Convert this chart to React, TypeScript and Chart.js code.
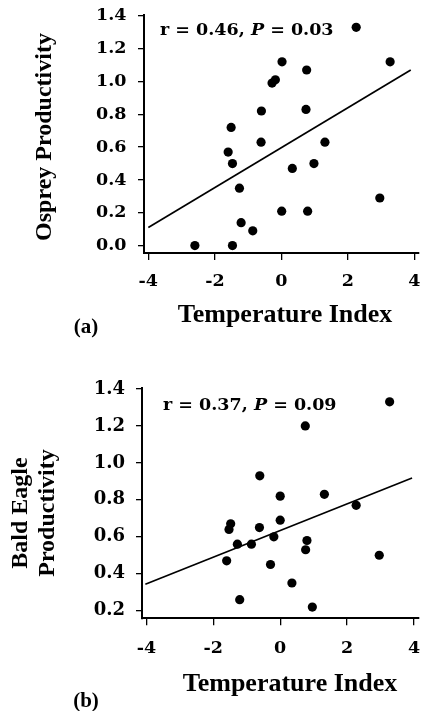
import React, { useEffect, useRef } from 'react';
import { Chart, registerables } from 'chart.js';

Chart.register(...registerables);

// ---------- data ----------
const xTickValues = [-4, -2, 0, 2, 4];
const ospreyYTicks = [0, 0.2, 0.4, 0.6, 0.8, 1.0, 1.2, 1.4];
const eagleYTicks = [0.2, 0.4, 0.6, 0.8, 1.0, 1.2, 1.4];

const ospreyTemp = [2.25, 0.02, 3.27, 0.76, -0.28, -0.18, -0.6, 0.74, -1.51, -0.61, 1.31, -1.6, -1.47, 0.98, 0.33, -1.26, 2.96, 0.01, 0.79, -1.21, -0.86, -2.6, -1.47];
const ospreyProd = [1.33, 1.12, 1.12, 1.07, 0.99, 1.01, 0.82, 0.83, 0.72, 0.63, 0.63, 0.57, 0.5, 0.5, 0.47, 0.35, 0.29, 0.21, 0.21, 0.14, 0.09, 0.0, 0.0];
const ospreyFitX = [-4.0, 3.89];
const ospreyFitY = [0.11, 1.07];

const eagleTemp = [3.27, 0.75, -0.61, 0.0, 1.32, 2.27, 0.0, -1.48, -1.53, -0.62, -0.19, -1.28, -0.86, 0.8, 0.76, -1.6, -0.29, 2.96, 0.35, -1.21, 0.96];
const eagleProd = [1.33, 1.2, 0.93, 0.82, 0.83, 0.77, 0.69, 0.67, 0.64, 0.65, 0.6, 0.56, 0.56, 0.58, 0.53, 0.47, 0.45, 0.5, 0.35, 0.26, 0.22];
const eagleFitX = [-4.03, 3.94];
const eagleFitY = [0.343, 0.918];

const xTitle = 'Temperature Index';
const ospreyYTitle = ['Osprey Productivity'];
const eagleYTitle = ['Bald Eagle', 'Productivity'];
const ospreyStats = ['0.46', '0.03'];
const eagleStats = ['0.37', '0.09'];
const panelLabels = ['(a)', '(b)'];

// ---------- chart builder ----------
type Panel = {
  width: number;
  height: number;
  axisLeft: number;
  padTop: number;
  padRight: number;
  xAxisHeight: number;
  xMin: number;
  xMax: number;
  yMin: number;
  yMax: number;
  yTicks: number[];
  temps: number[];
  prods: number[];
  fitX: number[];
  fitY: number[];
  yTickSize: number;
  xTickSize: number;
  xTickPad: number;
  yTickPad: number;
  yTitle: string[];
  yTitleX: number[];
  yTitleY: number;
  xTitleX: number;
  xTitleY: number;
  stats: string[];
  statsX: number;
  statsY: number;
  panel: string;
  panelX: number;
  panelY: number;
};

const SERIF = '"Liberation Serif", "Times New Roman", serif';
const TICKSERIF = '"DejaVu Serif", serif';

function buildChart(canvas: HTMLCanvasElement, p: Panel) {
  const textPlugin = {
    id: 'panelText',
    afterDraw(chart: any) {
      const ctx: CanvasRenderingContext2D = chart.ctx;
      ctx.save();
      ctx.fillStyle = '#000';
      ctx.font = `bold 24px ${SERIF}`;
      p.yTitle.forEach((line, i) => {
        ctx.save();
        ctx.translate(p.yTitleX[i], p.yTitleY);
        ctx.rotate(-Math.PI / 2);
        ctx.textAlign = 'center';
        ctx.textBaseline = 'middle';
        ctx.fillText(line, 0, 0);
        ctx.restore();
      });
      ctx.font = `bold 26px ${SERIF}`;
      ctx.textAlign = 'center';
      ctx.textBaseline = 'alphabetic';
      ctx.fillText(xTitle, p.xTitleX, p.xTitleY);

      const parts: [string, string][] = [
        ['bold', `r = ${p.stats[0]}, `],
        ['italic bold', 'P'],
        ['bold', ` = ${p.stats[1]}`],
      ];
      let x = p.statsX;
      ctx.textAlign = 'left';
      for (const [st, t] of parts) {
        ctx.font = `${st} 17.5px ${TICKSERIF}`;
        ctx.fillText(t, x, p.statsY);
        x += ctx.measureText(t).width;
      }

      ctx.font = `bold 21px ${SERIF}`;
      ctx.textAlign = 'center';
      ctx.fillText(p.panel, p.panelX, p.panelY);
      ctx.restore();
    },
  };

  const points = p.temps.map((t, i) => ({ x: t, y: p.prods[i] }));
  const fit = p.fitX.map((t, i) => ({ x: t, y: p.fitY[i] }));

  return new Chart(canvas, {
    type: 'scatter',
    data: {
      datasets: [
        {
          data: fit,
          showLine: true,
          borderColor: '#000',
          borderWidth: 1.7,
          pointRadius: 0,
          fill: false,
        },
        {
          data: points,
          backgroundColor: '#000',
          borderColor: '#000',
          borderWidth: 0,
          pointRadius: 4.6,
          pointHoverRadius: 4.6,
        },
      ],
    },
    options: {
      animation: false,
      responsive: false,
      events: [],
      layout: { padding: { left: 0, top: p.padTop, right: p.padRight, bottom: 0 } },
      plugins: { legend: { display: false }, tooltip: { enabled: false } },
      scales: {
        x: {
          type: 'linear',
          min: p.xMin,
          max: p.xMax,
          afterBuildTicks: (scale: any) => {
            scale.ticks = xTickValues.map((v) => ({ value: v }));
          },
          afterFit: (scale: any) => {
            scale.height = p.xAxisHeight;
            scale.paddingLeft = 0;
            scale.paddingRight = 0;
            scale.paddingTop = 0;
            scale.paddingBottom = 0;
          },
          ticks: {
            color: '#000',
            font: { family: TICKSERIF, size: p.xTickSize, weight: 'bold' },
            padding: p.xTickPad,
            maxRotation: 0,
            autoSkip: false,
            callback: (v: any) => String(v),
          },
          grid: {
            display: true,
            drawOnChartArea: false,
            drawTicks: true,
            tickLength: 7,
            color: '#000',
            lineWidth: 1.3,
          },
          border: { display: true, color: '#000', width: 2 },
        },
        y: {
          type: 'linear',
          min: p.yMin,
          max: p.yMax,
          afterBuildTicks: (scale: any) => {
            scale.ticks = p.yTicks.map((v) => ({ value: v }));
          },
          afterFit: (scale: any) => {
            scale.width = p.axisLeft;
            scale.paddingLeft = 0;
            scale.paddingRight = 0;
            scale.paddingTop = 0;
            scale.paddingBottom = 0;
          },
          ticks: {
            color: '#000',
            font: { family: TICKSERIF, size: p.yTickSize, weight: 'bold' },
            padding: p.yTickPad,
            autoSkip: false,
            callback: (v: any) => Number(v).toFixed(1),
          },
          grid: {
            display: true,
            drawOnChartArea: false,
            drawTicks: true,
            tickLength: 6,
            color: '#000',
            lineWidth: 1.3,
          },
          border: { display: true, color: '#000', width: 2 },
        },
      },
    },
    plugins: [textPlugin as any],
  } as any);
}

const ospreyPanel: Panel = {
  width: 423,
  height: 345,
  axisLeft: 144,
  padTop: 15,
  padRight: 3,
  xAxisHeight: 92,
  xMin: -4.13,
  xMax: 4.12,
  yMin: -0.045,
  yMax: 1.405,
  yTicks: ospreyYTicks,
  temps: ospreyTemp,
  prods: ospreyProd,
  fitX: ospreyFitX,
  fitY: ospreyFitY,
  yTickSize: 17.5,
  xTickSize: 17.5,
  xTickPad: 10.5,
  yTickPad: 11.5,
  yTitle: ospreyYTitle,
  yTitleX: [45],
  yTitleY: 137,
  xTitleX: 285,
  xTitleY: 322,
  stats: ospreyStats,
  statsX: 160,
  statsY: 35,
  panel: panelLabels[0],
  panelX: 86,
  panelY: 333,
};

const eaglePanel: Panel = {
  width: 423,
  height: 356,
  axisLeft: 142,
  padTop: 33,
  padRight: 3,
  xAxisHeight: 92.7,
  xMin: -4.13,
  xMax: 4.13,
  yMin: 0.159,
  yMax: 1.405,
  yTicks: eagleYTicks,
  temps: eagleTemp,
  prods: eagleProd,
  fitX: eagleFitX,
  fitY: eagleFitY,
  yTickSize: 18,
  xTickSize: 17.5,
  xTickPad: 12.5,
  yTickPad: 11,
  yTitle: eagleYTitle,
  yTitleX: [21, 48],
  yTitleY: 158,
  xTitleX: 290,
  xTitleY: 336,
  stats: eagleStats,
  statsX: 163,
  statsY: 55,
  panel: panelLabels[1],
  panelX: 86,
  panelY: 352,
};

function PanelChart({ cfg, top }: { cfg: Panel; top: number }) {
  const ref = useRef<HTMLCanvasElement | null>(null);
  useEffect(() => {
    if (!ref.current) return;
    const chart = buildChart(ref.current, cfg);
    return () => chart.destroy();
  }, [cfg]);
  return (
    <canvas
      ref={ref}
      width={cfg.width}
      height={cfg.height}
      style={{ position: 'absolute', left: 0, top, width: cfg.width, height: cfg.height, display: 'block' }}
    />
  );
}

export default function App() {
  return (
    <div style={{ position: 'absolute', left: 0, top: 0, width: 423, height: 711, background: '#fff', overflow: 'hidden' }}>
      <PanelChart cfg={ospreyPanel} top={0} />
      <PanelChart cfg={eaglePanel} top={355} />
    </div>
  );
}
